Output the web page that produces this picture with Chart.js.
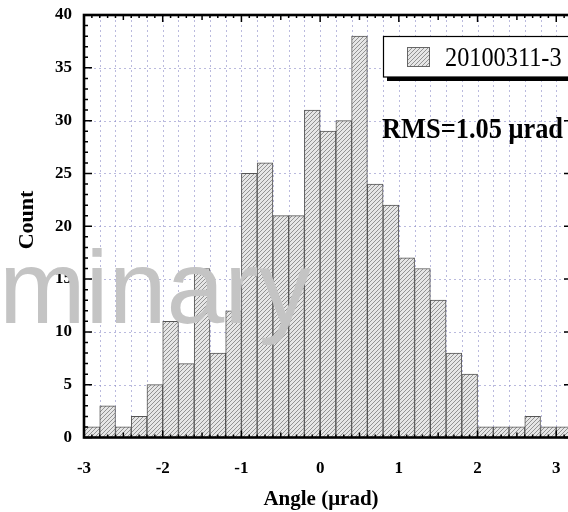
<!DOCTYPE html>
<html>
<head>
<meta charset="utf-8">
<script src="https://cdn.jsdelivr.net/npm/chart.js@4/dist/chart.umd.min.js"></script>
<style>
  html, body { margin: 0; padding: 0; overflow: hidden; background: #fff; width: 568px; height: 512px; }
  #wrap { position: relative; width: 576px; height: 512px; }
  canvas { display: block; }
</style>
</head>
<body>
<div id="wrap"><canvas id="c" width="576" height="512"></canvas></div>
<script>
// Histogram of angle residuals, bins 0.2 µrad wide
const binCenters = [-2.9, -2.7, -2.5, -2.3, -2.1, -1.9, -1.7, -1.5, -1.3, -1.1,
                    -0.9, -0.7, -0.5, -0.3, -0.1, 0.1, 0.3, 0.5, 0.7, 0.9,
                    1.1, 1.3, 1.5, 1.7, 1.9, 2.1, 2.3, 2.5, 2.7, 2.9, 3.1];
const counts = [1, 3, 1, 2, 5, 11, 7, 16, 8, 12,
                25, 26, 21, 21, 31, 29, 30, 38, 24, 22,
                17, 16, 13, 8, 6, 1, 1, 1, 2, 1, 1];
const xTickValues = [-3, -2, -1, 0, 1, 2, 3];
const xTickLabels = ['-3', '-2', '-1', '0', '1', '2', '3'];
const yTickLabels = ['0', '5', '10', '15', '20', '25', '30', '35', '40'];
const seriesName = '20100311-3';
const rmsLabel = 'RMS=1.05 \u03bcrad';
const xTitle = 'Angle (\u03bcrad)';
const yTitle = 'Count';
const watermark = 'Preliminary';

const SERIF = "'Liberation Serif', 'Times New Roman', serif";
const canvas = document.getElementById('c');
const ctx = canvas.getContext('2d');

// diagonal "////" hatch used for the bars and the legend swatch
function makeHatch() {
  const t = document.createElement('canvas');
  t.width = 4; t.height = 4;
  const g = t.getContext('2d');
  g.fillStyle = '#e6e6e6';
  g.fillRect(0, 0, 4, 4);
  g.fillStyle = '#929292';
  for (let i = 0; i < 4; i++) g.fillRect(i, 3 - i, 1, 1);
  return ctx.createPattern(t, 'repeat');
}
const hatch = makeHatch();

const frame = {
  id: 'frame',
  beforeDatasetsDraw(chart) {
    const { ctx, chartArea: a, scales: { x, y } } = chart;
    ctx.save();
    ctx.strokeStyle = 'rgba(140,140,200,0.6)';
    ctx.lineWidth = 1;
    ctx.setLineDash([2, 3]);
    x.ticks.forEach((t, i) => {
      if (i === 0 || i === x.ticks.length - 1) return;
      const px = Math.round(x.getPixelForValue(t.value)) + 0.5;
      ctx.beginPath(); ctx.moveTo(px, a.top); ctx.lineTo(px, a.bottom); ctx.stroke();
    });
    y.ticks.forEach((t, i) => {
      if (i === 0 || i === y.ticks.length - 1) return;
      const py = Math.round(y.getPixelForValue(t.value)) + 0.5;
      ctx.beginPath(); ctx.moveTo(a.left, py); ctx.lineTo(a.right, py); ctx.stroke();
    });
    ctx.restore();
  },
  afterDatasetsDraw(chart) {
    const { ctx, chartArea: a, scales: { x, y } } = chart;
    ctx.save();
    ctx.strokeStyle = '#000';
    ctx.lineWidth = 1.5;
    // inward ticks on bottom and top edges: 0.1 minor, 0.5 medium, 1 major
    for (let i = -30; i <= 32; i++) {
      const px = x.getPixelForValue(i / 10);
      const len = i % 10 === 0 ? 7 : (i % 5 === 0 ? 5 : 3);
      ctx.beginPath();
      ctx.moveTo(px, a.bottom); ctx.lineTo(px, a.bottom - len);
      ctx.moveTo(px, a.top); ctx.lineTo(px, a.top + len);
      ctx.stroke();
    }
    // inward ticks on left and right edges: every count, longer every 5
    for (let c = 0; c <= 40; c++) {
      const py = y.getPixelForValue(c);
      const len = c % 5 === 0 ? 8 : 4;
      ctx.beginPath();
      ctx.moveTo(a.left, py); ctx.lineTo(a.left + len, py);
      ctx.moveTo(a.right, py); ctx.lineTo(a.right - len, py);
      ctx.stroke();
    }
    ctx.lineWidth = 2.6;
    ctx.strokeRect(a.left, a.top, a.right - a.left, a.bottom - a.top);
    ctx.restore();
  },
  afterDraw(chart) {
    const { ctx } = chart;
    ctx.save();
    // axis titles
    ctx.fillStyle = '#000';
    ctx.font = 'bold 21px ' + SERIF;
    ctx.textAlign = 'center';
    ctx.textBaseline = 'alphabetic';
    ctx.fillText(xTitle, 321, 505);
    ctx.save();
    ctx.translate(33, 220);
    ctx.rotate(-Math.PI / 2);
    ctx.font = 'bold 22px ' + SERIF;
    ctx.fillText(yTitle, 0, 0);
    ctx.restore();

    // legend box with drop shadow
    ctx.fillStyle = '#000';
    ctx.fillRect(387, 40, 220, 41);
    ctx.fillStyle = '#fff';
    ctx.fillRect(383.5, 36.5, 220, 40.5);
    ctx.lineWidth = 1.2;
    ctx.strokeStyle = '#000';
    ctx.strokeRect(383.5, 36.5, 220, 40.5);
    ctx.fillStyle = hatch;
    ctx.fillRect(407, 47, 23, 20);
    ctx.strokeStyle = '#666';
    ctx.lineWidth = 1;
    ctx.strokeRect(407.5, 47.5, 22, 19);
    ctx.fillStyle = '#000';
    ctx.save();
    ctx.translate(445, 66);
    ctx.scale(0.9, 1);
    ctx.font = '27px ' + SERIF;
    ctx.textAlign = 'left';
    ctx.fillText(chart.data.datasets[0].label, 0, 0);
    ctx.restore();

    // RMS annotation
    ctx.save();
    ctx.translate(382, 138);
    ctx.scale(0.91, 1);
    ctx.font = 'bold 29px ' + SERIF;
    ctx.textAlign = 'left';
    ctx.fillText(rmsLabel, 0, 0);
    ctx.restore();

    // watermark over the plot
    ctx.fillStyle = '#c4c4c4';
    ctx.font = "104px 'Liberation Sans', Arial, sans-serif";
    ctx.textAlign = 'right';
    ctx.fillText(watermark, 311, 323);
    ctx.restore();
  }
};

new Chart(ctx, {
  type: 'bar',
  data: {
    datasets: [{
      label: seriesName,
      data: binCenters.map((c, i) => ({ x: c, y: counts[i] })),
      backgroundColor: hatch,
      borderColor: '#555',
      borderWidth: 1,
      barPercentage: 1,
      categoryPercentage: 1
    }]
  },
  options: {
    responsive: false,
    devicePixelRatio: 1,
    animation: false,
    layout: { padding: { top: 15, right: 4, left: 0, bottom: 0 } },
    plugins: { legend: { display: false }, tooltip: { enabled: false } },
    scales: {
      x: {
        type: 'linear',
        min: -3,
        max: 3.2,
        offset: false,
        grid: { display: false, drawTicks: false },
        border: { display: false },
        afterFit: s => { s.height = 74.5; s.paddingLeft = 0; s.paddingRight = 0; },
        ticks: {
          stepSize: 0.2,
          autoSkip: false,
          maxRotation: 0,
          minRotation: 0,
          padding: 21,
          color: '#000',
          font: { family: SERIF, weight: 'bold', size: 17 },
          callback: v => {
            const k = xTickValues.findIndex(t => Math.abs(t - v) < 1e-6);
            return k >= 0 ? xTickLabels[k] : '';
          }
        }
      },
      y: {
        min: 0,
        max: 40,
        grid: { display: false, drawTicks: false },
        border: { display: false },
        afterFit: s => { s.width = 84; s.paddingTop = 0; s.paddingBottom = 0; },
        ticks: {
          stepSize: 5,
          padding: 12,
          color: '#000',
          font: { family: SERIF, weight: 'bold', size: 17 },
          callback: v => yTickLabels[Math.round(v / 5)]
        }
      }
    }
  },
  plugins: [frame]
});
</script>
</body>
</html>
